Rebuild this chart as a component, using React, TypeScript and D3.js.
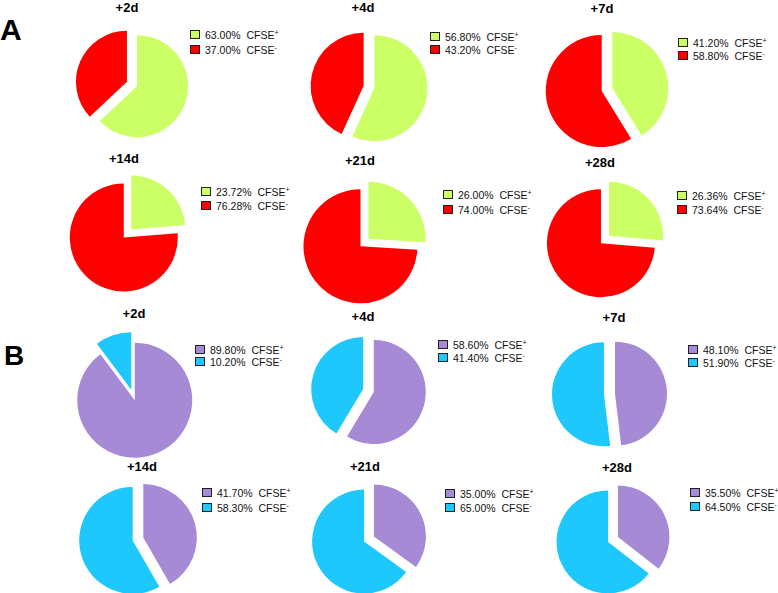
import React, { useEffect, useRef } from 'react';
import * as d3 from 'd3';

// time points and percentages
const days = ['+2d', '+4d', '+7d', '+14d', '+21d', '+28d'];
const posA = [63.0, 56.8, 41.2, 23.72, 26.0, 26.36];
const negA = [37.0, 43.2, 58.8, 76.28, 74.0, 73.64];
const posB = [89.8, 58.6, 48.1, 41.7, 35.0, 35.5];
const negB = [10.2, 41.4, 51.9, 58.3, 65.0, 64.5];

const colorsA = ['#CCFF66', '#FF0000'];
const colorsB = ['#A68AD5', '#1EC8FC'];

// layout of each small pie (title pos, pie center, radius, legend pos, row gap)
const layoutA = [
    { tx: 127, ty: 12, cx: 132, cy: 84, r: 51, lx: 190, ly: 30, gap: 15 },
    { tx: 363, ty: 12, cx: 369, cy: 87, r: 53, lx: 430, ly: 32, gap: 13 },
    { tx: 602, ty: 13, cx: 607, cy: 89.5, r: 56, lx: 678, ly: 38, gap: 13 },
    { tx: 124, ty: 163, cx: 127.5, cy: 233.5, r: 54, lx: 201, ly: 187, gap: 14 },
    { tx: 360, ty: 165, cx: 364.5, cy: 242.5, r: 57, lx: 443, ly: 190, gap: 15 },
    { tx: 600, ty: 167, cx: 605, cy: 239.5, r: 54, lx: 677, ly: 191, gap: 14 },
];
const layoutB = [
    { tx: 134, ty: 318, cx: 133, cy: 395, r: 57.5, lx: 195, ly: 345, gap: 12 },
    { tx: 363, ty: 321, cx: 368.5, cy: 390.5, r: 52, lx: 438, ly: 340, gap: 13 },
    { tx: 614, ty: 322, cx: 609.5, cy: 394, r: 52, lx: 688, ly: 345, gap: 13 },
    { tx: 142, ty: 471, cx: 138, cy: 539, r: 53.5, lx: 202, ly: 488, gap: 15 },
    { tx: 365, ty: 471, cx: 369, cy: 539, r: 52, lx: 445, ly: 489, gap: 14 },
    { tx: 617, ty: 472, cx: 613, cy: 539.5, r: 51.5, lx: 690, ly: 488, gap: 14 },
];

const FONT = 'Liberation Sans, Arial, sans-serif';

const App: React.FC = () => {
    const ref = useRef<SVGSVGElement | null>(null);

    useEffect(() => {
        if (!ref.current) return;
        const width = 778;
        const height = 593;

        d3.select(ref.current).selectAll('*').remove();
        const svg = d3.select(ref.current)
            .attr('width', width)
            .attr('height', height)
            .attr('font-family', FONT);

        const fmt = d3.format('.2f');
        const pie = d3.pie<number>().sort(null).value(d => d);
        const explode = 5.5;

        const drawPanel = (pos: number[], neg: number[], colors: string[], layout: typeof layoutA) => {
            days.forEach((day, i) => {
                const L = layout[i];
                const values = [pos[i], neg[i]];
                const arcs = pie(values);
                const arc = d3.arc<d3.PieArcDatum<number>>().innerRadius(0).outerRadius(L.r);

                const g = svg.append('g').attr('transform', `translate(${L.cx},${L.cy})`);
                g.selectAll('path')
                    .data(arcs)
                    .enter()
                    .append('path')
                    .attr('d', arc)
                    .attr('fill', (d, j) => colors[j])
                    .attr('transform', d => {
                        const mid = (d.startAngle + d.endAngle) / 2;
                        return `translate(${Math.sin(mid) * explode},${-Math.cos(mid) * explode})`;
                    });

                // title
                svg.append('text')
                    .attr('x', L.tx)
                    .attr('y', L.ty)
                    .attr('text-anchor', 'middle')
                    .attr('font-family', FONT)
                    .style('font-size', '13px')
                    .style('font-weight', 'bold')
                    .text(day);

                // legend
                const lg = svg.append('g').attr('transform', `translate(${L.lx},${L.ly})`);
                values.forEach((v, j) => {
                    const row = lg.append('g').attr('transform', `translate(0,${j * L.gap})`);
                    row.append('rect')
                        .attr('x', 0.5)
                        .attr('y', 0.5)
                        .attr('width', 9)
                        .attr('height', 8)
                        .attr('fill', colors[j])
                        .attr('stroke', '#222')
                        .attr('stroke-width', 1);
                    const t = row.append('text')
                        .attr('x', 15)
                        .attr('y', 8.5)
                        .attr('font-family', FONT)
                        .style('font-size', '10.5px')
                        .style('fill', '#111')
                        .attr('xml:space', 'preserve');
                    t.append('tspan').text(`${fmt(v)}%  CFSE`);
                    t.append('tspan')
                        .attr('dy', -4)
                        .style('font-size', '7px')
                        .text(j === 0 ? '+' : '-');
                });
            });
        };

        drawPanel(posA, negA, colorsA, layoutA);
        drawPanel(posB, negB, colorsB, layoutB);

        // panel letters
        svg.append('text')
            .attr('x', 0)
            .attr('y', 40)
            .style('font-size', '30px')
            .style('font-weight', 'bold')
            .text('A');
        svg.append('text')
            .attr('x', 4)
            .attr('y', 365)
            .style('font-size', '28px')
            .style('font-weight', 'bold')
            .text('B');
    }, []);

    return <svg ref={ref} style={{ position: 'absolute', left: 0, top: 0, background: '#fff' }} />;
};

export default App;
